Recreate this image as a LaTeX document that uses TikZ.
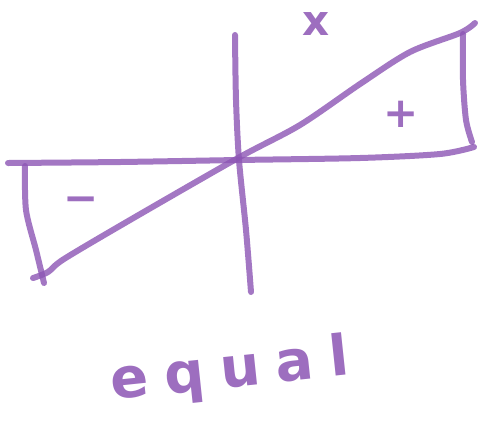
\documentclass[tikz,border=0pt]{standalone}
\usepackage{fontspec}
\setmainfont{DejaVu Sans}
\definecolor{ink}{RGB}{140,85,180}
\begin{document}
\begin{tikzpicture}[x=1pt,y=-1pt,
  stroke/.style={draw=ink, draw opacity=0.8, line width=6pt, line cap=round, line join=round},
  lbl/.style={text=ink, text opacity=0.85, inner sep=0pt, font=\bfseries\fontsize{42}{42}\selectfont}]
\useasboundingbox (0,0) rectangle (478,432);
% axes
\draw[stroke] plot[smooth] coordinates {(8,163) (120,162) (238,160) (360,158) (440,154) (474,147)};
\draw[stroke] plot[smooth] coordinates {(235,35) (236,100) (239,160) (246,230) (251,292)};
% line through origin
\draw[stroke] plot[smooth] coordinates {(33,278) (48,272) (64,259) (130,220) (238,158) (300,125) (360,84) (410,52) (460,33) (475,23)};
% triangle sides
\draw[stroke] plot[smooth] coordinates {(25,166) (26,210) (36,250) (44,283)};
\draw[stroke] plot[smooth] coordinates {(463,34) (463,80) (466,120) (472,142)};
% labels
\node[lbl] (xl) at (316,24) {x};
\node[lbl] (plus) at (401,114) {+};
\node[lbl] (minus) at (81,205) {−};
\node[lbl, font=\bfseries\fontsize{56}{56}\selectfont, rotate=6] (word) at (230,372) {e\kern16pt q\kern16pt u\kern16pt a\kern16pt l};
\end{tikzpicture}
\end{document}
